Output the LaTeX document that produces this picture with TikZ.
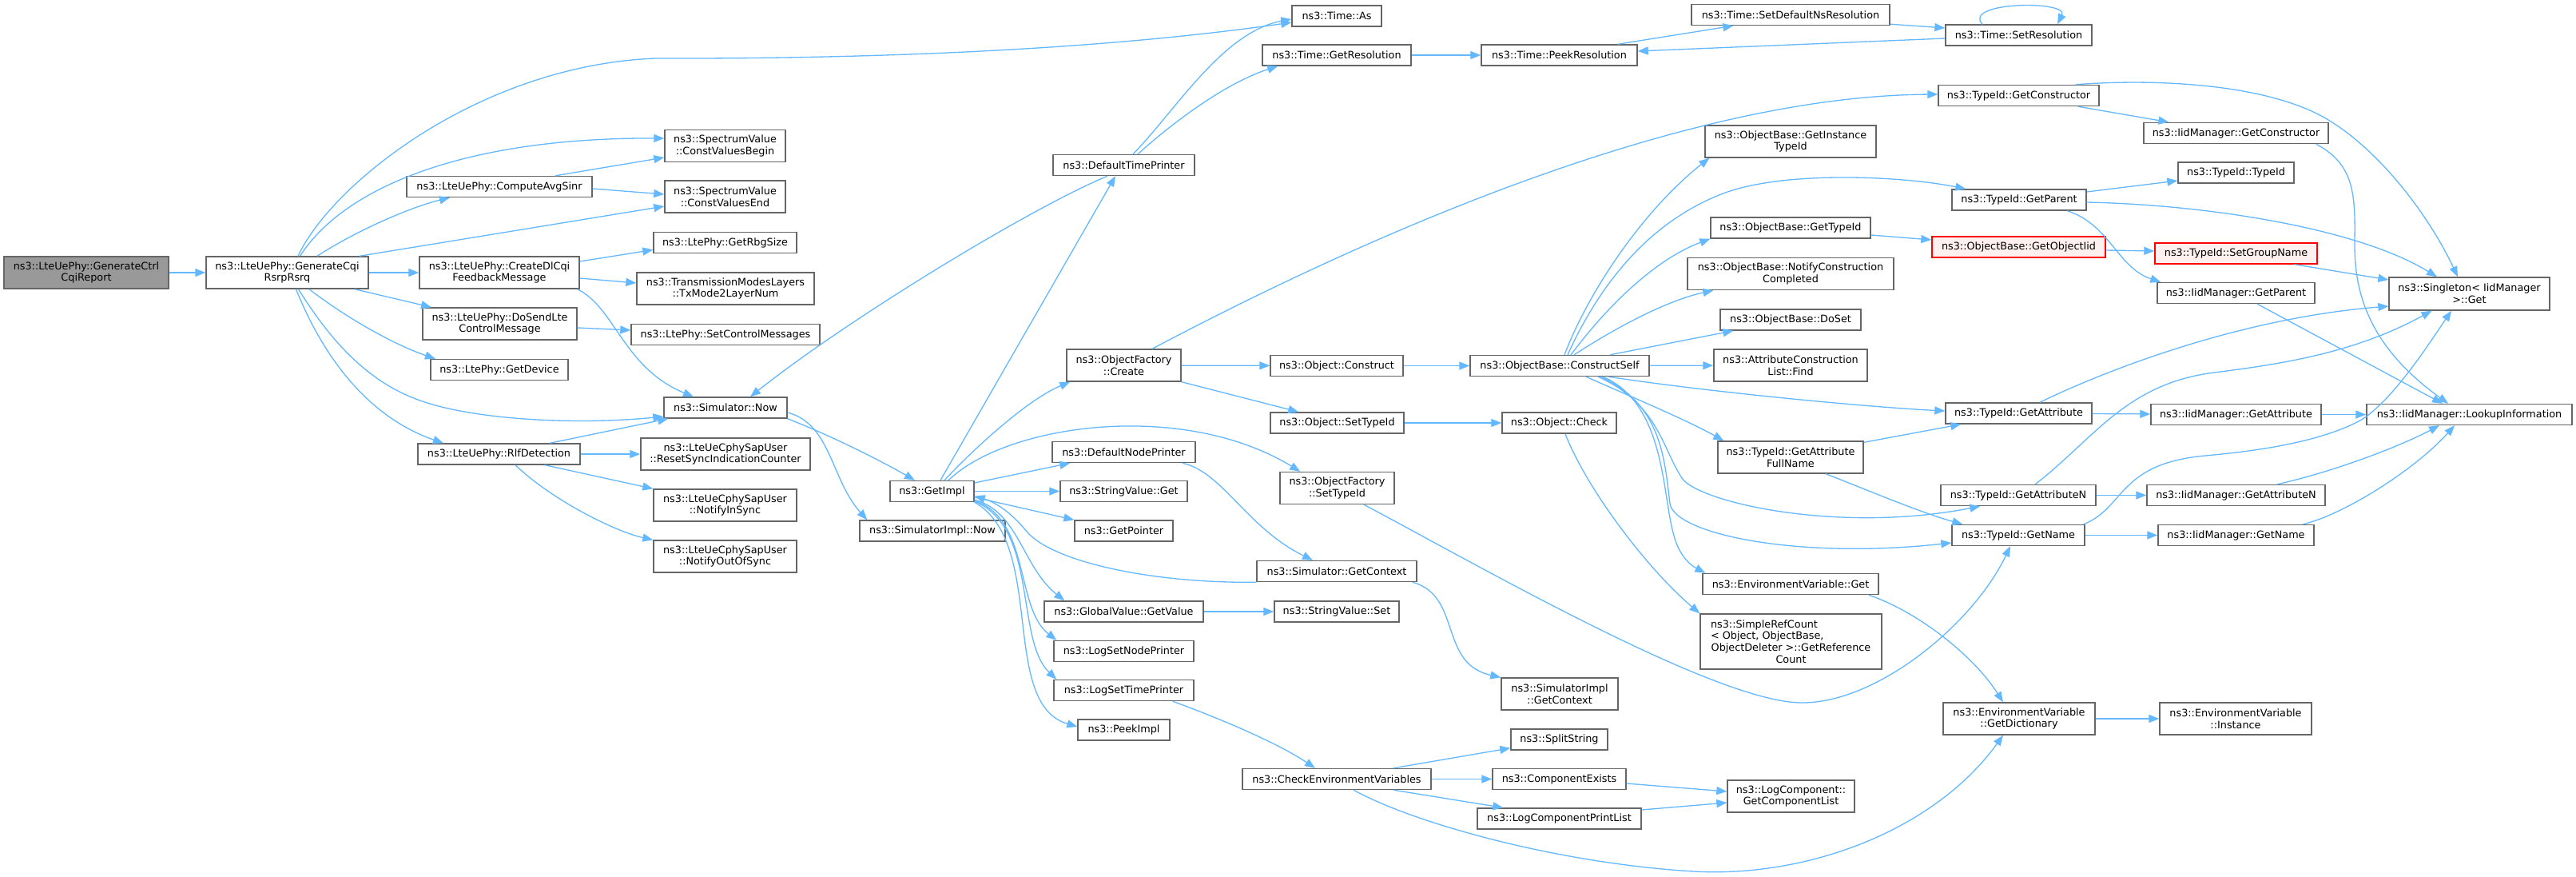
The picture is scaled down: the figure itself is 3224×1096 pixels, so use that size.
\documentclass[tikz,border=0pt]{standalone}
\usepackage{fontspec}
\setmainfont{DejaVu Sans}
\usetikzlibrary{arrows.meta,calc}
\definecolor{edgeblue}{HTML}{63B8FF}
\definecolor{boxgray}{HTML}{666666}
\definecolor{rootfill}{HTML}{999999}
\definecolor{redfill}{HTML}{FFF0F0}
\begin{document}
\begin{tikzpicture}[x=1pt,y=-1pt,
  box/.style={draw=boxgray,fill=white,line width=1.4pt,inner sep=0pt,align=center,
    font=\fontsize{12.8}{14.6}\selectfont,minimum height=26pt},
  two/.style={minimum height=40pt},
  rootbox/.style={fill=rootfill},
  redbox/.style={draw=red,fill=redfill},
  e/.style={draw=edgeblue,line width=1.3pt,-{Triangle[length=13pt,width=10pt]}}]
\useasboundingbox[fill=white] (0,0) rectangle (3224,1096);
% column 0-2
\node[box,two,rootbox,minimum width=206pt] (gen) at (108,341) {ns3::LteUePhy::GenerateCtrl\\CqiReport};
\node[box,two,minimum width=203pt] (cqi) at (359.5,341) {ns3::LteUePhy::GenerateCqi\\RsrpRsrq};
\node[box,minimum width=232pt] (avgsinr) at (625,233.5) {ns3::LteUePhy::ComputeAvgSinr};
\node[box,two,minimum width=200pt] (dlcqi) at (625,341) {ns3::LteUePhy::CreateDlCqi\\FeedbackMessage};
\node[box,two,minimum width=193pt] (dosend) at (625.5,405) {ns3::LteUePhy::DoSendLte\\ControlMessage};
\node[box,minimum width=172pt] (getdev) at (625,462.5) {ns3::LtePhy::GetDevice};
\node[box,minimum width=203pt] (rlf) at (624.5,568) {ns3::LteUePhy::RlfDetection};
% column 3
\node[box,two,minimum width=151pt] (cvb) at (907.5,182.5) {ns3::SpectrumValue\\::ConstValuesBegin};
\node[box,two,minimum width=151pt] (cve) at (907.5,246) {ns3::SpectrumValue\\::ConstValuesEnd};
\node[box,minimum width=179pt] (rbg) at (907.5,303.5) {ns3::LtePhy::GetRbgSize};
\node[box,two,minimum width=222pt] (txm) at (908,361) {ns3::TransmissionModesLayers\\::TxMode2LayerNum};
\node[box,minimum width=236pt] (setctrl) at (908,418.5) {ns3::LtePhy::SetControlMessages};
\node[box,minimum width=154pt] (now) at (908,510) {ns3::Simulator::Now};
\node[box,two,minimum width=212pt] (reset) at (908,568) {ns3::LteUeCphySapUser\\::ResetSyncIndicationCounter};
\node[box,two,minimum width=179pt] (insync) at (907.5,632) {ns3::LteUeCphySapUser\\::NotifyInSync};
\node[box,two,minimum width=179pt] (outsync) at (907.5,696) {ns3::LteUeCphySapUser\\::NotifyOutOfSync};
% column 4
\node[box,minimum width=105pt] (getimpl) at (1166.5,614.5) {ns3::GetImpl};
\node[box,minimum width=182pt] (simnow) at (1167,664) {ns3::SimulatorImpl::Now};
% column 5
\node[box,minimum width=177pt] (dtp) at (1406.5,206.5) {ns3::DefaultTimePrinter};
\node[box,two,minimum width=143pt] (ofcreate) at (1406.5,457) {ns3::ObjectFactory\\::Create};
\node[box,minimum width=179pt] (dnp) at (1406.5,565.5) {ns3::DefaultNodePrinter};
\node[box,minimum width=159pt] (svget) at (1406.5,614.5) {ns3::StringValue::Get};
\node[box,minimum width=123pt] (getptr) at (1406.5,664) {ns3::GetPointer};
\node[box,minimum width=199pt] (gvget) at (1406.5,765) {ns3::GlobalValue::GetValue};
\node[box,minimum width=175pt] (lognode) at (1406.5,814.5) {ns3::LogSetNodePrinter};
\node[box,minimum width=175pt] (logtime) at (1406.5,863.5) {ns3::LogSetTimePrinter};
\node[box,minimum width=115pt] (peek) at (1406.5,913) {ns3::PeekImpl};
% column 6
\node[box,minimum width=112pt] (timeas) at (1673,20) {ns3::Time::As};
\node[box,minimum width=186pt] (getres) at (1673,69) {ns3::Time::GetResolution};
\node[box,minimum width=166pt] (objconstruct) at (1673,457.5) {ns3::Object::Construct};
\node[box,minimum width=167pt] (objsettid) at (1673.5,529) {ns3::Object::SetTypeId};
\node[box,two,minimum width=143pt] (ofsettid) at (1673.5,610.5) {ns3::ObjectFactory\\::SetTypeId};
\node[box,minimum width=200pt] (simgetctx) at (1673,714.5) {ns3::Simulator::GetContext};
\node[box,minimum width=156pt] (svset) at (1673,765) {ns3::StringValue::Set};
\node[box,minimum width=236pt] (checkenv) at (1673,974.5) {ns3::CheckEnvironmentVariables};
% column 7
\node[box,minimum width=195pt] (peekres) at (1951.5,69) {ns3::Time::PeekResolution};
\node[box,minimum width=224pt] (constructself) at (1952,457.5) {ns3::ObjectBase::ConstructSelf};
\node[box,minimum width=143pt] (objcheck) at (1951.5,529) {ns3::Object::Check};
\node[box,two,minimum width=146pt] (simimplctx) at (1952,868) {ns3::SimulatorImpl\\::GetContext};
\node[box,minimum width=121pt] (split) at (1951.5,925) {ns3::SplitString};
\node[box,minimum width=167pt] (compexists) at (1951.5,974.5) {ns3::ComponentExists};
\node[box,minimum width=205pt] (logprint) at (1951.5,1024) {ns3::LogComponentPrintList};
% column 8
\node[box,minimum width=248pt] (setdefns) at (2241,18.5) {ns3::Time::SetDefaultNsResolution};
\node[box,two,minimum width=214pt] (getinsttid) at (2241,177) {ns3::ObjectBase::GetInstance\\TypeId};
\node[box,minimum width=200pt] (obgettid) at (2241,285) {ns3::ObjectBase::GetTypeId};
\node[box,two,minimum width=258pt] (notifycc) at (2241,342.5) {ns3::ObjectBase::NotifyConstruction\\Completed};
\node[box,minimum width=176pt] (doset) at (2241,400) {ns3::ObjectBase::DoSet};
\node[box,two,minimum width=192pt] (acfind) at (2241,457) {ns3::AttributeConstruction\\List::Find};
\node[box,two,minimum width=182pt] (getattrfn) at (2241,572) {ns3::TypeId::GetAttribute\\FullName};
\node[box,minimum width=220pt] (envget) at (2241,730.5) {ns3::EnvironmentVariable::Get};
\node[box,minimum width=227pt,minimum height=69pt] (simpleref) at (2241.5,802.5)
  {\makebox[201pt][l]{ns3::SimpleRefCount}\\\makebox[201pt][l]{< Object, ObjectBase,}\\ObjectDeleter >::GetReference\\Count};
\node[box,two,minimum width=159pt] (getcomplist) at (2241.5,996) {ns3::LogComponent::\\GetComponentList};
% column 9
\node[box,minimum width=183pt] (setres) at (2526.5,44) {ns3::Time::SetResolution};
\node[box,minimum width=201pt] (tgetctor) at (2526.5,119.5) {ns3::TypeId::GetConstructor};
\node[box,minimum width=168pt] (tgetparent) at (2527,250) {ns3::TypeId::GetParent};
\node[box,redbox,minimum width=217pt] (getobjiid) at (2526.5,309) {ns3::ObjectBase::GetObjectIid};
\node[box,minimum width=183pt] (tgetattr) at (2526.5,517) {ns3::TypeId::GetAttribute};
\node[box,minimum width=194pt] (tgetattrn) at (2526,619.5) {ns3::TypeId::GetAttributeN};
\node[box,minimum width=166pt] (tgetname) at (2526,669.5) {ns3::TypeId::GetName};
\node[box,two,minimum width=190pt] (getdict) at (2527,899) {ns3::EnvironmentVariable\\::GetDictionary};
% column 10
\node[box,minimum width=231pt] (igetctor) at (2798.5,166.5) {ns3::IidManager::GetConstructor};
\node[box,minimum width=145pt] (typeidctor) at (2798.5,216) {ns3::TypeId::TypeId};
\node[box,redbox,minimum width=203pt] (setgroup) at (2798.5,317) {ns3::TypeId::SetGroupName};
\node[box,minimum width=197pt] (igetparent) at (2798.5,366.5) {ns3::IidManager::GetParent};
\node[box,minimum width=213pt] (igetattr) at (2798.5,518.5) {ns3::IidManager::GetAttribute};
\node[box,minimum width=223pt] (igetattrn) at (2798.5,619.5) {ns3::IidManager::GetAttributeN};
\node[box,minimum width=195pt] (igetname) at (2798.5,669.5) {ns3::IidManager::GetName};
\node[box,two,minimum width=190pt] (envinst) at (2798,899) {ns3::EnvironmentVariable\\::Instance};
% column 11
\node[box,minimum width=201pt,minimum height=41pt] (singleton) at (3090.5,367.5) {ns3::Singleton< IidManager\\>::Get};
\node[box,minimum width=257pt] (lookup) at (3090.5,518.5) {ns3::IidManager::LookupInformation};

% ---------- edges ----------
\draw[e] (gen) -- (cqi);
\draw[e] ($(cqi.north)+(13.5,0)$) .. controls (415,230) and (600,82) .. (820,73) .. controls (1200,74) and (1450,52) .. ($(timeas.west)+(0,8)$);
\draw[e] ($(cqi.north)+(16,0)$) .. controls (430,235) and (580,172) .. ($(cvb.west)+(0,-9.5)$);
\draw[e] ($(cqi.north)+(37.5,0)$) .. controls (440,292) and (510,260) .. ($(avgsinr.south)+(-62,0)$);
\draw[e] ($(cqi.north)+(90.5,0)$) -- ($(cve.west)+(0,12)$);
\draw[e] (cqi) -- (dlcqi);
\draw[e] ($(cqi.south)+(84.5,0)$) -- ($(dosend.north)+(-85.5,0)$);
\draw[e] ($(cqi.south)+(27.5,0)$) .. controls (430,395) and (490,430) .. ($(getdev.north)+(-80,0)$);
\draw[e] ($(cqi.south)+(14,0)$) .. controls (410,420) and (455,475) .. (523,500) .. controls (590,525) and (720,532) .. ($(now.west)+(0,11)$);
\draw[e] ($(cqi.south)+(11,0)$) .. controls (410,460) and (470,525) .. ($(rlf.north)+(-69.5,0)$);
\draw[e] ($(avgsinr.north)+(70,0)$) -- ($(cvb.west)+(0,14.5)$);
\draw[e] ($(avgsinr.east)+(0,2.5)$) -- ($(cve.west)+(0,-3)$);
\draw[e] ($(dlcqi.east)+(0,-14)$) -- ($(rbg.west)+(0,9)$);
\draw[e] ($(dlcqi.east)+(0,7)$) -- ($(txm.west)+(0,-7)$);
\draw[e] ($(dlcqi.south east)+(-3,0)$) .. controls (770,385) and (780,460) .. ($(now.north)+(-40,0)$);
\draw[e] ($(dosend.east)+(0,5)$) -- ($(setctrl.west)+(0,-5.5)$);
\draw[e] ($(rlf.north)+(63.5,0)$) -- ($(now.south west)+(6,0)$);
\draw[e] (rlf) -- (reset);
\draw[e] ($(rlf.south)+(57.5,0)$) -- (insync.north west);
\draw[e] ($(rlf.south)+(20.5,0)$) .. controls (690,625) and (770,665) .. (outsync.north west);
\draw[e] (now.south east) .. controls (1040,545) and (1100,575) .. ($(getimpl.north)+(-21.5,0)$);
\draw[e] ($(now.east)+(0,6)$) .. controls (1040,530) and (1040,600) .. ($(simnow.north west)+(10,0)$);
\draw[e] ($(dtp.north)+(11.5,0)$) .. controls (1470,140) and (1530,40) .. ($(timeas.west)+(0,4)$);
\draw[e] ($(dtp.north)+(17.5,0)$) .. controls (1460,160) and (1530,105) .. ($(getres.south west)+(20,0)$);
\draw[e] ($(dtp.south)+(-20.5,0)$) .. controls (1290,260) and (1060,400) .. ($(now.north)+(31,0)$);
\draw[e] ($(getimpl.north)+(10.5,0)$) -- ($(dtp.south)+(-10.5,0)$);
\draw[e] ($(getimpl.north)+(15.5,0)$) .. controls (1215,565) and (1285,500) .. ($(ofcreate.south west)+(5,0)$);
\draw[e] ($(getimpl.north)+(20.5,0)$) .. controls (1260,530) and (1480,500) .. ($(ofsettid.north west)+(26,0)$);
\draw[e] ($(getimpl.east)+(0,-10.5)$) -- ($(dnp.south west)+(23,0)$);
\draw[e] (getimpl) -- (svget);
\draw[e] ($(getimpl.east)+(0,7.5)$) -- (getptr.north west);
\draw[e] (simgetctx.south west) .. controls (1450,730) and (1320,705) .. (1285,665) .. controls (1265,640) and (1245,628) .. ($(getimpl.east)+(0,6)$);
\draw[e] ($(getimpl.south east)+(0,-3)$) .. controls (1275,640) and (1280,710) .. ($(gvget.north west)+(26,0)$);
\draw[e] ($(getimpl.south east)+(0,-2)$) .. controls (1290,650) and (1270,760) .. ($(lognode.north west)+(4,0)$);
\draw[e] ($(getimpl.south east)+(0,-1)$) .. controls (1300,660) and (1270,800) .. ($(logtime.north west)+(4,0)$);
\draw[e] (getimpl.south east) .. controls (1310,680) and (1250,880) .. ($(peek.west)+(0,-4)$);
\draw[e] (gvget) -- (svset);
\draw[e] ($(logtime.south east)+(-27,0)$) .. controls (1530,900) and (1600,930) .. ($(checkenv.north)+(-27,0)$);
\draw[e] ($(dnp.south east)+(-17,0)$) .. controls (1530,590) and (1560,660) .. ($(simgetctx.north)+(-30,0)$);
\draw[e] ($(simgetctx.south east)+(-6,0)$) .. controls (1830,745) and (1800,830) .. (simimplctx.north west);
\draw[e] (ofcreate) -- (objconstruct);
\draw[e] (ofcreate.south east) -- ($(objsettid.north west)+(36,0)$);
\draw[e] ($(ofcreate.north)+(35.5,0)$) .. controls (1700,300) and (2100,120) .. ($(tgetctor.west)+(0,-1.5)$);
\draw[e] (objconstruct) -- (constructself);
\draw[e] (objsettid) -- (objcheck);
\draw[e] ($(objcheck.south)+(7.5,0)$) .. controls (1985,610) and (2060,710) .. (simpleref.north west);
\draw[e] ($(ofsettid.south)+(33.5,0)$) .. controls (1850,707) and (2150,880) .. (2256,879) .. controls (2350,879) and (2470,780) .. ($(tgetname.south)+(-10,0)$);
\draw[e] ($(checkenv.north)+(71,0)$) -- ($(split.south west)+(0,-3)$);
\draw[e] (checkenv) -- (compexists);
\draw[e] ($(checkenv.south)+(71,0)$) -- ($(logprint.north west)+(33,0)$);
\draw[e] ($(checkenv.south)+(21,0)$) .. controls (1770,1030) and (1950,1080) .. (2120,1090) .. controls (2260,1098) and (2420,1040) .. ($(getdict.south)+(-20,0)$);
\draw[e] ($(compexists.east)+(0,5.5)$) -- ($(getcomplist.west)+(0,-6)$);
\draw[e] ($(logprint.east)+(0,-11)$) -- ($(getcomplist.west)+(0,8)$);
\draw[e] (getdict) -- (envinst);
\draw[e] ($(envget.south east)+(-13,0)$) .. controls (2400,765) and (2470,820) .. ($(getdict.north)+(-20,0)$);
\draw[e] (getres) -- (peekres);
\draw[e] ($(peekres.north east)+(-25,0)$) -- ($(setdefns.south west)+(53,0)$);
\draw[e] ($(setdefns.south east)+(0,-2)$) -- ($(setres.west)+(0,-9)$);
\draw[e] ($(setres.west)+(0,4)$) -- ($(peekres.east)+(0,-5)$);
\draw[e] ($(setres.north)+(-45.5,0)$) .. controls (2455,2) and (2590,0) .. ($(setres.north)+(48.5,0)$);
\draw[e] ($(constructself.north)+(6,0)$) .. controls (1990,360) and (2060,260) .. ($(getinsttid.south west)+(6,0)$);
\draw[e] ($(constructself.north)+(10,0)$) .. controls (2000,360) and (2060,280) .. (2154,243) .. controls (2229,213) and (2380,220) .. ($(tgetparent.north west)+(18,0)$);
\draw[e] ($(constructself.north)+(14,0)$) .. controls (2010,385) and (2070,325) .. (obgettid.south west);
\draw[e] ($(constructself.north)+(18,0)$) .. controls (2030,405) and (2090,375) .. ($(notifycc.south west)+(33,0)$);
\draw[e] ($(constructself.north)+(63,0)$) -- ($(doset.south west)+(17,0)$);
\draw[e] (constructself) -- (acfind);
\draw[e] ($(constructself.south)+(61,0)$) .. controls (2150,492) and (2350,510) .. ($(tgetattr.west)+(0,-3)$);
\draw[e] ($(constructself.south)+(33,0)$) .. controls (2050,500) and (2110,525) .. ($(getattrfn.north west)+(8,0)$);
\draw[e] ($(constructself.south)+(48,0)$) .. controls (2075,505) and (2080,560) .. (2105,598) .. controls (2125,628) and (2300,668) .. ($(tgetattrn.south west)+(50,0)$);
\draw[e] ($(constructself.south)+(51,0)$) .. controls (2078,505) and (2083,570) .. (2090,630) .. controls (2096,668) and (2250,700) .. ($(tgetname.west)+(0,9.5)$);
\draw[e] ($(constructself.south)+(54,0)$) .. controls (2085,505) and (2080,620) .. (2095,670) .. controls (2100,690) and (2112,705) .. ($(envget.north west)+(4,0)$);
\draw[e] ($(getattrfn.north east)+(0,2)$) -- ($(tgetattr.south west)+(20,0)$);
\draw[e] ($(getattrfn.south)+(44,0)$) .. controls (2330,610) and (2400,640) .. ($(tgetname.north west)+(14,0)$);
\draw[e] ($(tgetattr.north)+(26.5,0)$) .. controls (2600,480) and (2780,400) .. ($(singleton.west)+(0,15.5)$);
\draw[e] (tgetattr) -- (igetattr);
\draw[e] (igetattr) -- (lookup);
\draw[e] (tgetattrn) -- (igetattrn);
\draw[e] ($(tgetattrn.north)+(21,0)$) .. controls (2620,550) and (2660,480) .. (2771,466) .. controls (2860,455) and (2950,440) .. ($(singleton.south)+(-47,0)$);
\draw[e] (tgetname) -- (igetname);
\draw[e] ($(tgetname.north east)+(-2,0)$) .. controls (2660,635) and (2650,580) .. (2760,570) .. controls (2850,562) and (2910,548) .. (2950,528) .. controls (2990,508) and (3040,430) .. ($(singleton.south)+(-22.5,0)$);
\draw[e] ($(igetattrn.north)+(51.5,0)$) .. controls (2920,590) and (3000,560) .. ($(lookup.south)+(-37.5,0)$);
\draw[e] ($(igetname.north)+(83.5,0)$) .. controls (2930,645) and (3020,590) .. ($(lookup.south)+(-18.5,0)$);
\draw[e] ($(igetctor.south east)+(-16,0)$) .. controls (2945,205) and (2948,240) .. (2947,300) .. controls (2946,360) and (2960,430) .. ($(lookup.north)+(-26.5,0)$);
\draw[e] ($(igetparent.south)+(26.5,0)$) -- ($(lookup.north)+(-33.5,0)$);
\draw[e] ($(setgroup.south east)+(-29,0)$) -- ($(singleton.west)+(0,-17.5)$);
\draw[e] ($(getobjiid.east)+(0,4)$) -- ($(setgroup.west)+(0,-3)$);
\draw[e] ($(obgettid.east)+(0,9)$) -- ($(getobjiid.west)+(0,-9)$);
\draw[e] ($(tgetparent.east)+(0,-10)$) -- ($(typeidctor.west)+(0,10)$);
\draw[e] ($(tgetparent.east)+(0,3)$) .. controls (2760,256) and (2950,285) .. ($(singleton.north)+(-40.5,0)$);
\draw[e] ($(tgetparent.south)+(60,0)$) .. controls (2640,280) and (2650,335) .. ($(igetparent.north west)+(5,0)$);
\draw[e] ($(tgetctor.south east)+(-27,0)$) -- ($(igetctor.north west)+(32,0)$);
\draw[e] ($(tgetctor.north east)+(-30,0)$) .. controls (2700,98) and (2840,105) .. (2914,150) .. controls (2980,190) and (3040,270) .. ($(singleton.north)+(-14.5,0)$);
\end{tikzpicture}
\end{document}
